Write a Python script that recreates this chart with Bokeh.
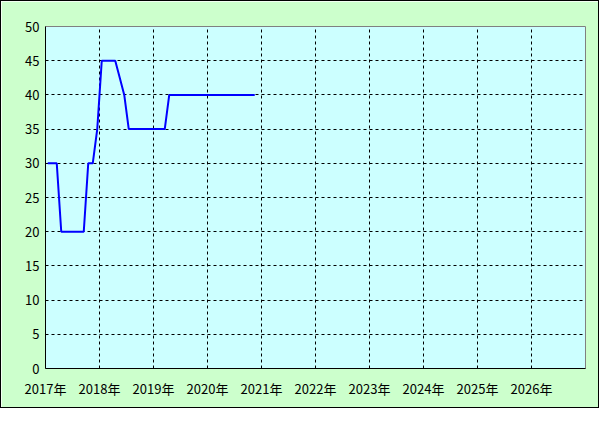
from bokeh.plotting import figure
from bokeh.models import Range1d, FixedTicker, ColumnDataSource
from bokeh.embed import file_html
from bokeh.resources import INLINE

# Monthly values (Jan 2017 .. Nov 2020)
years = [2017] * 12 + [2018] * 12 + [2019] * 12 + [2020] * 11
months = list(range(1, 13)) * 3 + list(range(1, 12))
values = [30, 30, 30, 20, 20, 20, 20, 20, 20, 30, 30, 35,
          45, 45, 45, 45, 42.5, 40, 35, 35, 35, 35, 35, 35,
          35, 35, 35, 40, 40, 40, 40, 40, 40, 40, 40, 40,
          40, 40, 40, 40, 40, 40, 40, 40, 40, 40, 40]
tick_years = list(range(2017, 2027))
tick_labels = [f"{y}年" for y in tick_years]
y_ticks = list(range(0, 51, 5))

# position each monthly value at the middle of its month (in year units)
xpos = [y + (m - 0.5) / 12 for y, m in zip(years, months)]
src = ColumnDataSource(dict(x=xpos, v=values))

p = figure(width=599, height=408, output_backend="svg", toolbar_location=None,
           x_range=Range1d(2017, 2027), y_range=Range1d(0, 50),
           min_border_left=44, min_border_right=15, min_border_top=25, min_border_bottom=41)
p.styles = {"border": "1px solid black", "box-sizing": "border-box"}

p.border_fill_color = "#CCFFCC"
p.background_fill_color = "#CCFFFF"
p.outline_line_color = "#808080"
p.outline_line_width = 1

p.line("x", "v", source=src, line_color="#0000FF", line_width=2)

font = "Noto Sans CJK JP"
p.xaxis.ticker = FixedTicker(ticks=tick_years)
p.xaxis.major_label_overrides = {y: l for y, l in zip(tick_years, tick_labels)}
p.yaxis.ticker = FixedTicker(ticks=y_ticks)
for ax in (p.xaxis[0], p.yaxis[0]):
    ax.major_tick_in = 0
    ax.major_tick_out = 0
    ax.minor_tick_in = 0
    ax.minor_tick_out = 0
    ax.axis_line_color = "black"
    ax.axis_line_width = 1
    ax.major_label_text_font = font
    ax.major_label_text_font_size = "13px"
    ax.major_label_text_color = "black"
p.xaxis.major_label_standoff = 10
p.yaxis.major_label_standoff = 6

p.xgrid.ticker = FixedTicker(ticks=tick_years)
p.ygrid.ticker = FixedTicker(ticks=y_ticks)
for g in (p.xgrid[0], p.ygrid[0]):
    g.grid_line_color = "black"
    g.grid_line_dash = "3 3"
    g.grid_line_width = 1

open("out.html", "w").write(file_html(p, INLINE))
